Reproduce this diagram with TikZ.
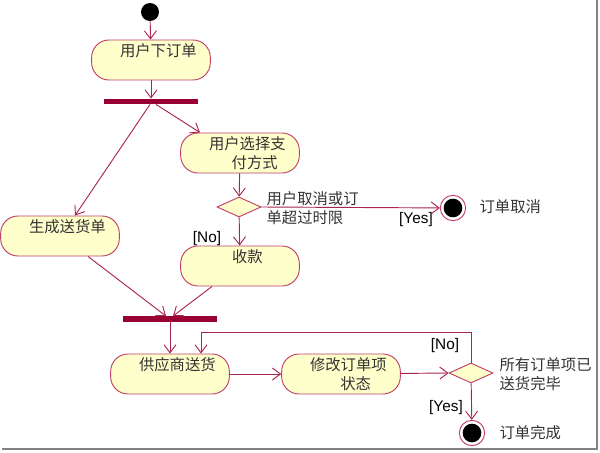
\documentclass[tikz,border=0pt]{standalone}
\usepackage{fontspec}
\setmainfont{Liberation Sans}
\newfontfamily\cjk{Noto Sans CJK SC}
\usetikzlibrary{arrows.meta,shapes.geometric}

\definecolor{actfill}{HTML}{FFFFCC}
\definecolor{actline}{HTML}{C0406A}
\definecolor{flowcol}{HTML}{A8264E}
\definecolor{barcol}{HTML}{990033}
\newcommand{\br}{\\\hspace*{11pt}}

\tikzset{
  act/.style={rectangle, rounded corners=13pt, draw=actline, fill=actfill, line width=0.7pt,
    minimum width=89pt, minimum height=30pt, inner sep=2pt, text=black!80, align=center,
    font=\cjk\fontsize{11.5}{14.25}\selectfont, execute at begin node=\hspace*{11pt}},
  act1/.style={act, text depth=15pt},
  decision/.style={diamond, aspect=2.2, draw=actline, fill=actfill, line width=0.7pt,
    minimum width=33pt, minimum height=15pt, inner sep=0pt},
  bar/.style={rectangle, fill=barcol, minimum width=71pt, minimum height=4pt, inner sep=0pt},
  initial/.style={circle, fill=black, minimum size=13.5pt, inner sep=0pt},
  final/.style={circle, draw=actline, fill=white, line width=0.7pt, minimum size=19pt, inner sep=0pt,
    path picture={\fill[black] (path picture bounding box.center) circle (7pt);}},
  flow/.style={draw=flowcol, line width=0.7pt, -{Straight Barb[length=6pt,width=9pt]}},
  guard/.style={font=\fontsize{11.5}{14}\selectfont, text=black, inner sep=1pt},
  note/.style={font=\cjk\fontsize{11.5}{14.25}\selectfont, text=black!80, align=left, anchor=west, inner sep=1pt}
}

\begin{document}
\begin{tikzpicture}[x=0.75pt, y=-0.75pt]
  \useasboundingbox (0,0) rectangle (600,453);
  % frame shadow
  \draw[gray, line width=1.6pt] (597,0) -- (597,449) -- (2,449);
  % activities
  \node[initial] (start) at (150,12) {};
  \node[act1] (order) at (151,60) {用户下订单};
  \node[bar] (fork1) at (151,101.5) {};
  \node[act] (pay) at (240,153) {用户选择支\br 付方式};
  \node[decision] (cancelchk) at (239,207) {};
  \node[final] (cancel) at (453,208) {};
  \node[act1] (ship) at (60,236) {生成送货单};
  \node[act1] (collect) at (240,266) {收款};
  \node[bar] (fork2) at (170,319) {};
  \node[act1] (supply) at (170,374) {供应商送货};
  \node[act] (modify) at (341,374) {修改订单项\br 状态};
  \node[decision] (allsent) at (471,373) {};
  \node[final] (done) at (472,433) {};
  % notes and guards
  \node[note] (cancelnote) at (265,208) {用户取消或订\\单超过时限};
  \node[note] (cancelend) at (478,207) {订单取消};
  \node[guard] (yes1) at (416,220) {[Yes]};
  \node[guard] (no1) at (207,239) {[No]};
  \node[note] (sentnote) at (498,374) {所有订单项已\\送货完毕};
  \node[guard] (no2) at (445,346) {[No]};
  \node[guard] (yes2) at (446,408) {[Yes]};
  \node[note] (doneend) at (498,433) {订单完成};
  % transitions
  \draw[flow] (start) -- (order);
  \draw[flow] (order) -- (fork1);
  \draw[flow] ([xshift=-0.75pt]fork1.south) -- ([xshift=11.25pt]ship.north);
  \draw[flow] ([xshift=3.75pt]fork1.south) -- ([xshift=-30pt]pay.north);
  \draw[flow] (pay) -- (cancelchk);
  \draw[flow] (cancelchk.east) -- (cancel);
  \draw[flow] (cancelchk) -- (collect);
  \draw[flow] ([xshift=21pt]ship.south) -- ([xshift=-3pt]fork2.north);
  \draw[flow] ([xshift=-21pt]collect.south) -- ([xshift=2.25pt]fork2.north);
  \draw[flow] (fork2) -- (supply);
  \draw[flow] (supply) -- (modify);
  \draw[flow] (modify) -- (allsent.west);
  \draw[flow] (allsent) -- (done);
  \draw[flow] (allsent.north) -- ++(0,-30) -| ([xshift=23.25pt]supply.north);
\end{tikzpicture}
\end{document}
